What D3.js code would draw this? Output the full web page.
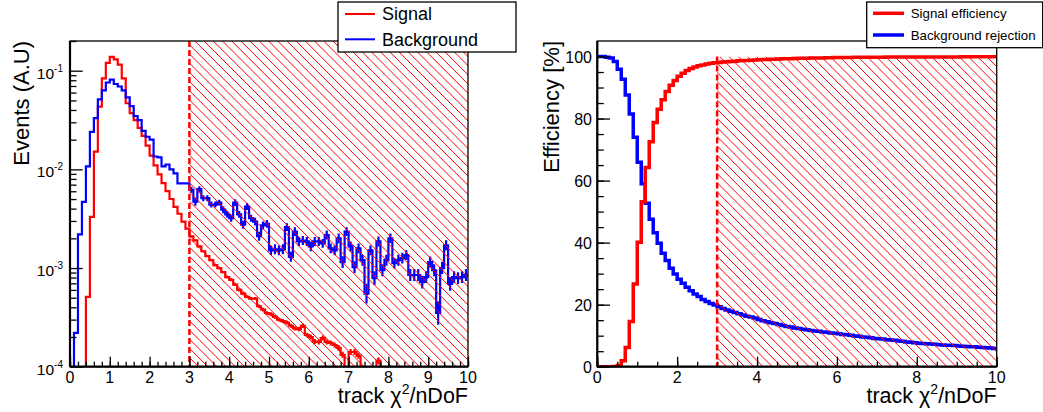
<!DOCTYPE html>
<html><head><meta charset="utf-8">
<script src="https://cdn.jsdelivr.net/npm/d3@7"></script>
<style>
body{margin:0;background:#fff}
text{font-family:"Liberation Sans",Arial,Helvetica,sans-serif;fill:#000}
</style>
</head><body>
<svg id="c" width="1043" height="412"></svg>
<script>
// ---------------- data ----------------
const binWidth = 0.1;
const binLow = d3.range(100).map(i => i * binWidth);   // bin lower edges 0.0 ... 9.9
const cut = 3;                                          // chi2/nDoF cut value

// left: normalised track chi2/nDoF distributions (per 0.1 bin)
const signal = [
  0,0,0,0,5.1e-4,3.3e-3,1.51e-2,4.32e-2,8.36e-2,0.120,
  0.138,0.130,0.115,0.0836,0.0468,0.0372,0.0316,0.0263,0.0219,0.0174,
  0.0138,0.0110,0.00891,0.00724,0.00603,0.00501,0.00417,0.00355,0.00295,0.00251,
  0.00209,0.00191,0.00166,0.00148,0.00132,0.00120,0.00107,0.00100,9.1e-4,8.1e-4,
  7.6e-4,6.8e-4,6.0e-4,5.5e-4,5.1e-4,4.9e-4,4.9e-4,4.1e-4,3.8e-4,3.5e-4,
  3.4e-4,3.2e-4,3.0e-4,2.9e-4,2.8e-4,2.6e-4,2.45e-4,2.4e-4,2.6e-4,2.1e-4,
  2.0e-4,1.8e-4,1.78e-4,1.95e-4,1.78e-4,1.74e-4,1.66e-4,1.55e-4,1.32e-4,0,
  1.41e-4,1.41e-4,1.29e-4,0,0,0,0,1.15e-4,0,0,
  0,0,0,0,0,0,0,0,0,0,
  0,0,0,0,0,0,0,0,0,0
];
// signal statistical error, in decades (log10 units)
const signalErr = [
  0,0,0,0,0,0,0,0,0,0,
  0,0,0,0,0,0,0,0,0,0,
  0,0,0,0,0,0,0,0,0,0,
  0.01,0.01,0.01,0.01,0.01,0.01,0.012,0.012,0.012,0.012,
  0.015,0.015,0.015,0.015,0.015,0.015,0.015,0.018,0.018,0.018,
  0.02,0.02,0.02,0.02,0.02,0.02,0.022,0.022,0.022,0.022,
  0.025,0.025,0.025,0.025,0.025,0.025,0.025,0.03,0.03,0,
  0.03,0.03,0.03,0,0,0,0,0.035,0,0,
  0,0,0,0,0,0,0,0,0,0,
  0,0,0,0,0,0,0,0,0,0
];
const background = [
  0,2.2e-4,2.19e-3,4.68e-3,1.07e-2,2.40e-2,3.31e-2,5.13e-2,6.31e-2,7.59e-2,
  8.13e-2,7.33e-2,6.92e-2,6.31e-2,5.37e-2,4.37e-2,3.47e-2,3.16e-2,2.45e-2,2.14e-2,
  2.0e-2,1.35e-2,1.32e-2,1.07e-2,1.12e-2,1.0e-2,9.1e-3,7.2e-3,7.2e-3,7.2e-3,
  6.2e-3,4.7e-3,6.3e-3,5.1e-3,5.1e-3,4.4e-3,4.4e-3,4.6e-3,3.9e-3,3.5e-3,
  3.2e-3,4.6e-3,3.5e-3,2.75e-3,4.2e-3,3.2e-3,2.95e-3,2.1e-3,2.7e-3,2.8e-3,
  1.51e-3,1.55e-3,1.51e-3,1.55e-3,2.6e-3,1.30e-3,2.34e-3,1.86e-3,1.9e-3,1.86e-3,
  1.66e-3,1.86e-3,1.86e-3,1.78e-3,2.16e-3,1.58e-3,1.51e-3,2.0e-3,1.15e-3,2.34e-3,
  1.66e-3,1.02e-3,1.58e-3,1.20e-3,5.5e-4,1.51e-3,7.9e-4,1.86e-3,9.5e-4,1.20e-3,
  2.0e-3,1.12e-3,1.20e-3,1.26e-3,1.35e-3,8.5e-4,8.5e-4,8.5e-4,7.2e-4,8.1e-4,
  1.15e-3,9.5e-4,3.5e-4,1.0e-3,1.7e-3,6.9e-4,8.1e-4,7.9e-4,8.1e-4,8.5e-4
];
// background statistical error, in decades (log10 units)
const backgroundErr = [
  0,0,0,0,0,0,0,0,0,0,
  0,0,0,0,0,0,0,0,0,0,
  0,0,0,0,0,0,0,0,0,0,
  0.03,0.04,0.03,0.03,0.03,0.03,0.03,0.03,0.035,0.035,
  0.035,0.035,0.035,0.04,0.035,0.035,0.04,0.045,0.04,0.04,
  0.05,0.05,0.05,0.05,0.04,0.05,0.045,0.045,0.045,0.045,
  0.05,0.045,0.045,0.045,0.045,0.05,0.05,0.05,0.06,0.045,
  0.05,0.06,0.05,0.055,0.1,0.05,0.07,0.05,0.06,0.055,
  0.05,0.055,0.055,0.055,0.05,0.06,0.06,0.06,0.065,0.06,
  0.055,0.06,0.12,0.06,0.05,0.07,0.06,0.06,0.06,0.06
];

// right: efficiencies vs. cut value (percent)
const signalEff = [
  0,0,0,0,0.05,0.4,1.9,6.2,14.6,26.7,
  40.1,53.2,64.2,72.5,78.7,83.0,86.1,88.7,90.7,92.3,
  93.6,94.6,95.5,96.1,96.6,97.0,97.3,97.6,97.8,98.0,
  98.1,98.2,98.3,98.4,98.5,98.6,98.7,98.75,98.8,98.9,
  98.95,99.0,99.05,99.1,99.15,99.2,99.25,99.3,99.3,99.35,
  99.4,99.4,99.45,99.5,99.5,99.55,99.55,99.6,99.6,99.65,
  99.65,99.7,99.7,99.7,99.75,99.75,99.75,99.8,99.8,99.8,
  99.8,99.8,99.82,99.82,99.83,99.83,99.84,99.84,99.85,99.85,
  99.85,99.86,99.86,99.86,99.87,99.87,99.87,99.88,99.88,99.88,
  99.88,99.89,99.89,99.89,99.9,99.9,99.9,99.9,99.9,99.9
];
const backgroundRej = [
  100,99.98,99.8,99.5,98.4,95.9,92.7,87.6,81.5,74.0,
  65.9,59.0,52.7,47.5,43.2,39.8,36.6,34.2,31.7,29.9,
  28.2,26.9,25.6,24.5,23.4,22.6,21.7,21.0,20.4,19.9,
  19.3,18.8,18.3,17.9,17.5,17.1,16.7,16.3,16.0,15.7,
  15.2,14.8,14.5,14.2,13.9,13.6,13.3,13.0,12.8,12.5,
  12.3,12.1,11.9,11.7,11.5,11.4,11.2,11.1,10.9,10.8,
  10.6,10.4,10.3,10.1,9.9,9.8,9.6,9.5,9.3,9.1,
  9.0,8.9,8.7,8.6,8.5,8.3,8.2,8.0,7.9,7.7,
  7.6,7.5,7.4,7.3,7.2,7.1,7.0,6.95,6.9,6.8,
  6.7,6.6,6.5,6.45,6.4,6.3,6.2,6.1,6.0,5.9
];

const logTicks = [1e-4, 1e-3, 1e-2, 1e-1];
const logTickExp = ["-4", "-3", "-2", "-1"];
const xTicksL = [0,1,2,3,4,5,6,7,8,9,10];
const xTicksR = [0,2,4,6,8,10];
const yTicksR = [0,20,40,60,80,100];

// ---------------- layout ----------------
const svg = d3.select("#c");
svg.append("rect").attr("width",1043).attr("height",412).attr("fill","#fff");
const L = {x0:70, x1:468, y0:41, y1:366.7};
const R = {x0:597.3, x1:996.7, y0:41, y1:366.7};
const xL = d3.scaleLinear([0,10],[L.x0,L.x1]);
const yL = d3.scaleLog([1e-4,0.2],[L.y1,L.y0]);
const xR = d3.scaleLinear([0,10],[R.x0,R.x1]);
const yR = d3.scaleLinear([0,105],[R.y1,R.y0]);
const RED = "#ff0000", BLUE = "#0000ff";

const defs = svg.append("defs");
defs.append("clipPath").attr("id","clipL").append("rect")
  .attr("x",L.x0).attr("y",L.y0).attr("width",L.x1-L.x0).attr("height",L.y1-L.y0);
defs.append("clipPath").attr("id","clipR").append("rect")
  .attr("x",R.x0).attr("y",R.y0).attr("width",R.x1-R.x0).attr("height",R.y1-R.y0);

function steps(vals, floor) {
  const pts = [];
  vals.forEach((v,i) => {
    const vv = v > floor ? v : floor;
    pts.push([binLow[i], vv], [binLow[i] + binWidth, vv]);
  });
  return pts;
}
function errBars(g, vals, errs, color) {
  g.append("g").selectAll("line")
    .data(vals.map((v,i)=>({v, e:errs[i], x:binLow[i]+binWidth/2})).filter(d=>d.v>0 && d.e>0))
    .join("line")
    .attr("x1",d=>xL(d.x)).attr("x2",d=>xL(d.x))
    .attr("y1",d=>yL(d.v*Math.pow(10,d.e))).attr("y2",d=>yL(d.v/Math.pow(10,d.e)))
    .attr("stroke",color).attr("stroke-width",2.2);
}

// ---------- LEFT PANEL ----------
const gL = svg.append("g");
const plotL = gL.append("g").attr("clip-path","url(#clipL)");
const lineL = d3.line().x(d => xL(d[0])).y(d => yL(d[1]));
plotL.append("path").attr("d", lineL(steps(signal, 3e-5)))
  .attr("fill","none").attr("stroke",RED).attr("stroke-width",2.2);
errBars(plotL, signal, signalErr, RED);
plotL.append("path").attr("d", lineL(steps(background, 3e-5)))
  .attr("fill","none").attr("stroke",BLUE).attr("stroke-width",2.2);
errBars(plotL, background, backgroundErr, BLUE);

function hatch(g, x0, x1, y0, y1, clipId) {
  defs.append("clipPath").attr("id",clipId).append("rect")
    .attr("x",x0).attr("y",y0).attr("width",x1-x0).attr("height",y1-y0);
  const H = y1 - y0, sp = 9.2;
  const hg = g.append("g").attr("clip-path",`url(#${clipId})`);
  const starts = d3.range(x0 - H, x1 + sp, sp);
  hg.selectAll("line").data(starts).join("line")
    .attr("x1",d=>d).attr("y1",y0).attr("x2",d=>d+H).attr("y2",y1)
    .attr("stroke",RED).attr("stroke-width",1);
  g.append("line").attr("x1",x0).attr("x2",x0).attr("y1",y0).attr("y2",y1)
    .attr("stroke",RED).attr("stroke-width",2.5).attr("stroke-dasharray","6,3");
}
hatch(gL, xL(cut), L.x1, L.y0, L.y1, "hatchL");

// frame
gL.append("rect").attr("x",L.x0).attr("y",L.y0).attr("width",L.x1-L.x0).attr("height",L.y1-L.y0)
  .attr("fill","none").attr("stroke","#000").attr("stroke-width",1.3);
gL.append("line").attr("x1",L.x0).attr("x2",L.x1).attr("y1",L.y1).attr("y2",L.y1).attr("stroke","#000").attr("stroke-width",2.2);
gL.append("line").attr("x1",L.x0).attr("x2",L.x0).attr("y1",L.y0).attr("y2",L.y1).attr("stroke","#000").attr("stroke-width",2.2);

// x axis left
gL.append("g").attr("transform",`translate(0,${L.y1})`)
  .call(d3.axisBottom(xL).tickValues(d3.range(0,10.001,0.2)).tickSize(-5).tickFormat(""))
  .call(g=>{g.select(".domain").remove(); g.selectAll("line").attr("stroke-width",1.3);});
gL.append("g").attr("transform",`translate(0,${L.y1})`)
  .call(d3.axisBottom(xL).tickValues(xTicksL).tickSize(-10).tickFormat(""))
  .call(g=>{g.select(".domain").remove(); g.selectAll("line").attr("stroke-width",1.3);});
gL.append("g").selectAll("text").data(xTicksL).join("text")
  .attr("x",d=>xL(d)).attr("y",382.5).attr("text-anchor","middle")
  .style("font-size","16px").text(d=>d);

// y axis left (log)
const minorLog = [];
[1e-4,1e-3,1e-2,1e-1].forEach(p => { for (let k=2;k<=9;k++){ const v=k*p; if (v<=0.2) minorLog.push(v);} });
gL.append("g").attr("transform",`translate(${L.x0},0)`)
  .call(d3.axisLeft(yL).tickValues(minorLog).tickSize(-6.5).tickFormat(""))
  .call(g=>{g.select(".domain").remove(); g.selectAll("line").attr("stroke-width",1.3);});
gL.append("g").attr("transform",`translate(${L.x0},0)`)
  .call(d3.axisLeft(yL).tickValues(logTicks).tickSize(-12.7).tickFormat(""))
  .call(g=>{g.select(".domain").remove(); g.selectAll("line").attr("stroke-width",1.3);});
const yl = gL.append("g").selectAll("text").data(logTicks).join("text")
  .attr("x",63).attr("y",d=>yL(d)+8).attr("text-anchor","end").style("font-size","15.5px");
yl.append("tspan").text("10");
yl.append("tspan").attr("dy",-7).style("font-size","10px").text((d,i)=>logTickExp[i]);

// titles left
const xtL = gL.append("text").attr("x",L.x1).attr("y",402.5).attr("text-anchor","end").style("font-size","21.5px");
xtL.append("tspan").text("track \u03C7");
xtL.append("tspan").attr("dy",-8.5).style("font-size","14px").text("2");
xtL.append("tspan").attr("dy",8.5).text("/nDoF");
gL.append("text").attr("transform",`translate(28.5,${L.y0}) rotate(-90)`).attr("text-anchor","end")
  .style("font-size","22px").text("Events (A.U)");

// legend left
const lgL = gL.append("g");
lgL.append("rect").attr("x",338).attr("y",2).attr("width",178).attr("height",50)
  .attr("fill","#fff").attr("stroke","#000").attr("stroke-width",1.3);
[["Signal",RED,14],["Background",BLUE,39.3]].forEach(([t,c,y])=>{
  lgL.append("line").attr("x1",345).attr("x2",375).attr("y1",y).attr("y2",y).attr("stroke",c).attr("stroke-width",2);
  lgL.append("text").attr("x",382).attr("y",y).attr("dy","0.36em").style("font-size","18px").text(t);
});

// ---------- RIGHT PANEL ----------
const gR = svg.append("g");
const plotR = gR.append("g").attr("clip-path","url(#clipR)");
const lineR = d3.line().x(d => xR(d[0])).y(d => yR(d[1]));
plotR.append("path").attr("d", lineR(steps(backgroundRej, -1)))
  .attr("fill","none").attr("stroke",BLUE).attr("stroke-width",3.5);
plotR.append("path").attr("d", lineR(steps(signalEff, -1)))
  .attr("fill","none").attr("stroke",RED).attr("stroke-width",3.5);
hatch(gR, xR(cut), R.x1, yR(100), R.y1, "hatchR");

gR.append("rect").attr("x",R.x0).attr("y",R.y0).attr("width",R.x1-R.x0).attr("height",R.y1-R.y0)
  .attr("fill","none").attr("stroke","#000").attr("stroke-width",1.3);
gR.append("line").attr("x1",R.x0).attr("x2",R.x1).attr("y1",R.y1).attr("y2",R.y1).attr("stroke","#000").attr("stroke-width",2.2);
gR.append("line").attr("x1",R.x0).attr("x2",R.x0).attr("y1",R.y0).attr("y2",R.y1).attr("stroke","#000").attr("stroke-width",2.2);

gR.append("g").attr("transform",`translate(0,${R.y1})`)
  .call(d3.axisBottom(xR).tickValues(d3.range(0,10.001,0.5)).tickSize(-5).tickFormat(""))
  .call(g=>{g.select(".domain").remove(); g.selectAll("line").attr("stroke-width",1.3);});
gR.append("g").attr("transform",`translate(0,${R.y1})`)
  .call(d3.axisBottom(xR).tickValues(xTicksR).tickSize(-10).tickFormat(""))
  .call(g=>{g.select(".domain").remove(); g.selectAll("line").attr("stroke-width",1.3);});
gR.append("g").selectAll("text").data(xTicksR).join("text")
  .attr("x",d=>xR(d)).attr("y",382.5).attr("text-anchor","middle")
  .style("font-size","16px").text(d=>d);

gR.append("g").attr("transform",`translate(${R.x0},0)`)
  .call(d3.axisLeft(yR).tickValues(d3.range(0,100.1,5)).tickSize(-6.5).tickFormat(""))
  .call(g=>{g.select(".domain").remove(); g.selectAll("line").attr("stroke-width",1.3);});
gR.append("g").attr("transform",`translate(${R.x0},0)`)
  .call(d3.axisLeft(yR).tickValues(yTicksR).tickSize(-12.7).tickFormat(""))
  .call(g=>{g.select(".domain").remove(); g.selectAll("line").attr("stroke-width",1.3);});
gR.append("g").selectAll("text").data(yTicksR).join("text")
  .attr("x",592).attr("y",d=>yR(d)+6.3).attr("text-anchor","end")
  .style("font-size","16px").text(d=>d);

const xtR = gR.append("text").attr("x",R.x1).attr("y",402.5).attr("text-anchor","end").style("font-size","21.5px");
xtR.append("tspan").text("track \u03C7");
xtR.append("tspan").attr("dy",-8.5).style("font-size","14px").text("2");
xtR.append("tspan").attr("dy",8.5).text("/nDoF");
gR.append("text").attr("transform",`translate(559.3,${R.y0}) rotate(-90)`).attr("text-anchor","end")
  .style("font-size","22px").text("Efficiency [%]");

const lgR = gR.append("g");
lgR.append("rect").attr("x",866.7).attr("y",2).attr("width",176).attr("height",45.7)
  .attr("fill","#fff").attr("stroke","#000").attr("stroke-width",1.3);
[["Signal efficiency",RED,13.3],["Background rejection",BLUE,35]].forEach(([t,c,y])=>{
  lgR.append("line").attr("x1",873).attr("x2",904).attr("y1",y).attr("y2",y).attr("stroke",c).attr("stroke-width",3.5);
  lgR.append("text").attr("x",910.7).attr("y",y).attr("dy","0.36em").style("font-size","13.3px").text(t);
});
</script>
</body></html>
